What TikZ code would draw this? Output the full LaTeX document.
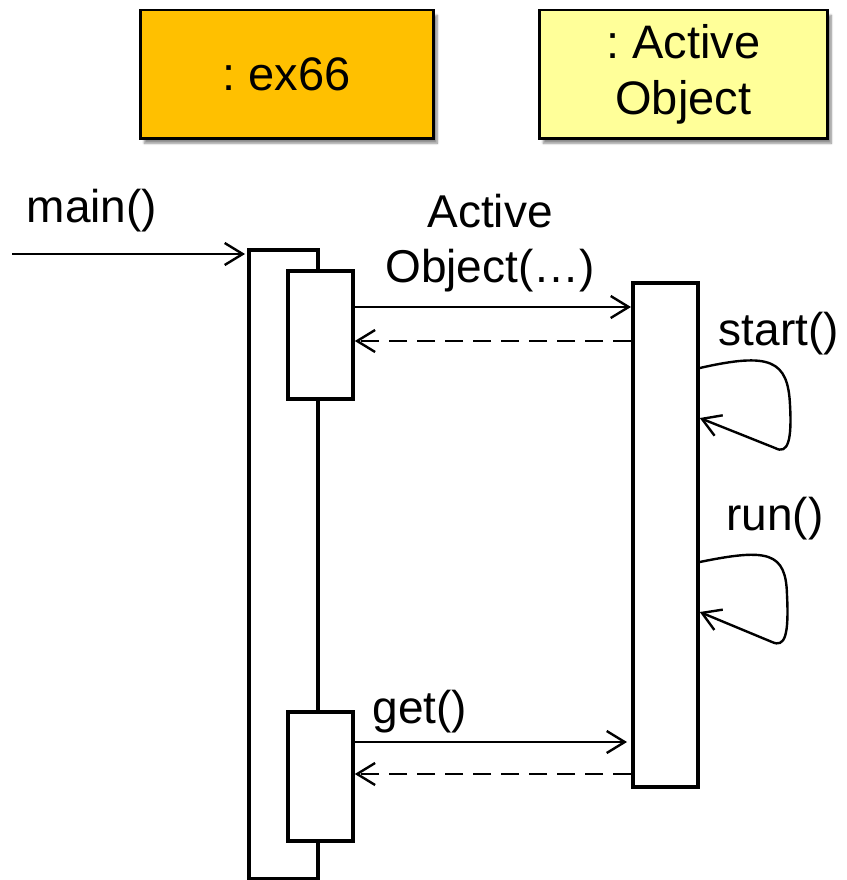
\documentclass[tikz,border=0pt]{standalone}
\usepackage{fontspec}
\setmainfont{Liberation Sans}
\usetikzlibrary{arrows.meta,shadows.blur}
\definecolor{orangebox}{RGB}{255,192,0}
\definecolor{yellowbox}{RGB}{255,255,153}
\tikzset{
  objbox/.style={draw=black, line width=2.5pt, inner sep=0pt, align=center,
    font=\fontsize{47}{56}\selectfont\frenchspacing, anchor=north west,
    blur shadow={shadow xshift=4pt, shadow yshift=-5pt, shadow blur steps=6, shadow opacity=45}},
  actbox/.style={draw=black, fill=white, line width=3.8pt, inner sep=0pt, anchor=north west},
  msg/.style={line width=2.4pt, -{Straight Barb[length=18pt,width=22pt]}},
  ret/.style={msg, dash pattern=on 18pt off 10pt},
  lbl/.style={font=\fontsize{46}{55}\selectfont, inner sep=0pt, align=center}
}
\begin{document}
\begin{tikzpicture}[x=1pt,y=-1pt]
\useasboundingbox (0,0) rectangle (846,880);
% object boxes
\node[objbox, fill=orangebox, minimum width=293pt, minimum height=128pt] (ex) at (139,9) {: ex66};
\node[objbox, fill=yellowbox, minimum width=288pt, minimum height=128pt] (ao) at (538,9) {: Active\\Object};
% activations
\node[actbox, minimum width=69pt, minimum height=629pt] (ba) at (247,248) {};
\node[actbox, minimum width=65pt, minimum height=128pt] (sa1) at (286,269) {};
\node[actbox, minimum width=65pt, minimum height=129pt] (sa2) at (286,710) {};
\node[actbox, minimum width=65pt, minimum height=504pt] (ra) at (631,281) {};
% message rows
\coordinate (mstart) at (12,254);
\coordinate (y1) at (0,307);
\coordinate (y2) at (0,341);
\coordinate (y3) at (0,742);
\coordinate (y4) at (0,774);
% main
\draw[msg] (mstart) -- ([xshift=-2pt]ba.west |- mstart);
\node[lbl, anchor=base] (lmain) at (92,222) {main()};
% constructor
\draw[msg] (sa1.east |- y1) -- (ra.west |- y1);
\draw[ret] (ra.west |- y2) -- (sa1.east |- y2);
\node[lbl, anchor=north] (lctor) at (490,194) {Active\\Object(…)};
% start loop
\draw[msg] (ra.east |- 0,368) .. controls (770,352) and (788,360) .. (790,405)
   .. controls (792,440) and (788,455) .. (775,448) -- (ra.east |- 0,418);
\node[lbl, anchor=base] (lstart) at (779,345) {start()};
% run loop
\draw[msg] (ra.east |- 0,562) .. controls (768,548) and (786,552) .. (787,595)
   .. controls (789,635) and (785,648) .. (772,642) -- (ra.east |- 0,612);
\node[lbl, anchor=base] (lrun) at (775,530) {run()};
% get
\draw[msg] (sa2.east |- y3) -- ([xshift=-4pt]ra.west |- y3);
\draw[ret] (ra.west |- y4) -- (sa2.east |- y4);
\node[lbl, anchor=base] (lget) at (420,723) {get()};
\end{tikzpicture}
\end{document}
